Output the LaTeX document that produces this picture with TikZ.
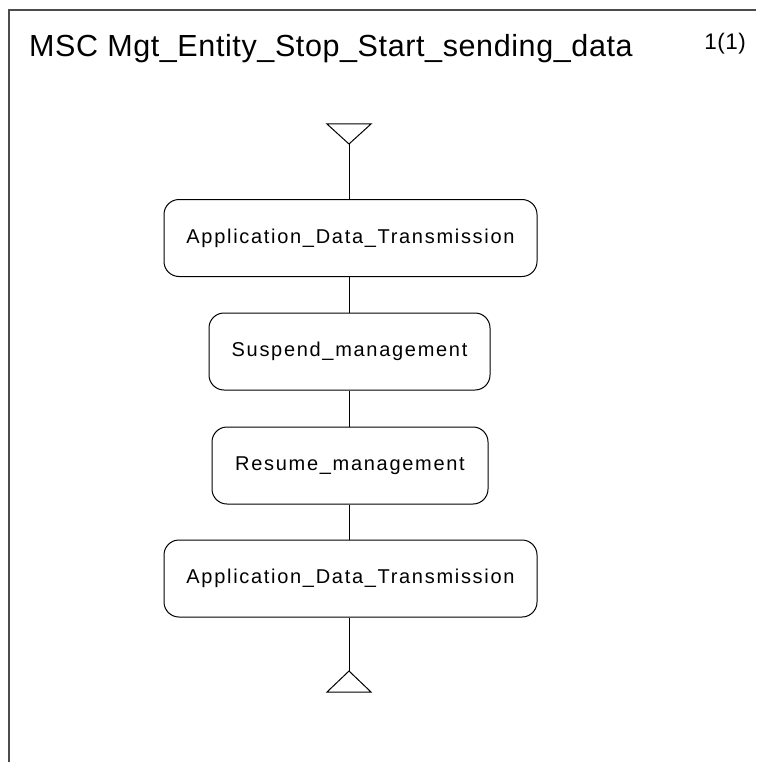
\documentclass[tikz,border=0pt]{standalone}
\usepackage{fontspec}
\setmainfont{Liberation Sans}
\newfontfamily\spacedfont[LetterSpace=8.5]{Liberation Sans}
\newfontfamily\titlefont[LetterSpace=2]{Liberation Sans}
\begin{document}
\begin{tikzpicture}[x=1pt,y=-1pt,
  refbox/.style={draw=black,line width=1pt,rounded corners=15pt,minimum height=77pt,inner sep=0pt,font=\spacedfont\fontsize{20}{24}\selectfont},
  life/.style={draw=black,line width=1pt},
  frameline/.style={draw=black!70,line width=1.5pt}]
\useasboundingbox (0,0) rectangle (756,762);
\draw[frameline] (9,762) -- (9,10) -- (756,10);
\node[anchor=base west,inner sep=0pt,font=\titlefont\fontsize{30.5}{36}\selectfont] (title) at (29,57) {MSC Mgt\_Entity\_Stop\_Start\_sending\_data};
\node[anchor=base east,inner sep=0pt,font=\titlefont\fontsize{22.5}{27}\selectfont] (page) at (746,50) {1(1)};
% instance head / end
\coordinate (top) at (349,144);
\coordinate (bot) at (349,671);
\draw[life] (327,124) -- (371,124) -- (top) -- cycle;
\draw[life] (327,692) -- (371,692) -- (bot) -- cycle;
\node[refbox,minimum width=373pt] (r1) at (350.5,238) {Application\_Data\_Transmission};
\node[refbox,minimum width=281pt] (r2) at (349.5,351.5) {Suspend\_management};
\node[refbox,minimum width=276pt] (r3) at (350,465.5) {Resume\_management};
\node[refbox,minimum width=373pt] (r4) at (350.5,578.5) {Application\_Data\_Transmission};
\draw[life] (top) -- (top |- r1.north);
\draw[life] (r1.south -| top) -- (r2.north -| top);
\draw[life] (r2.south -| top) -- (r3.north -| top);
\draw[life] (r3.south -| top) -- (r4.north -| top);
\draw[life] (r4.south -| top) -- (bot);
\end{tikzpicture}
\end{document}
